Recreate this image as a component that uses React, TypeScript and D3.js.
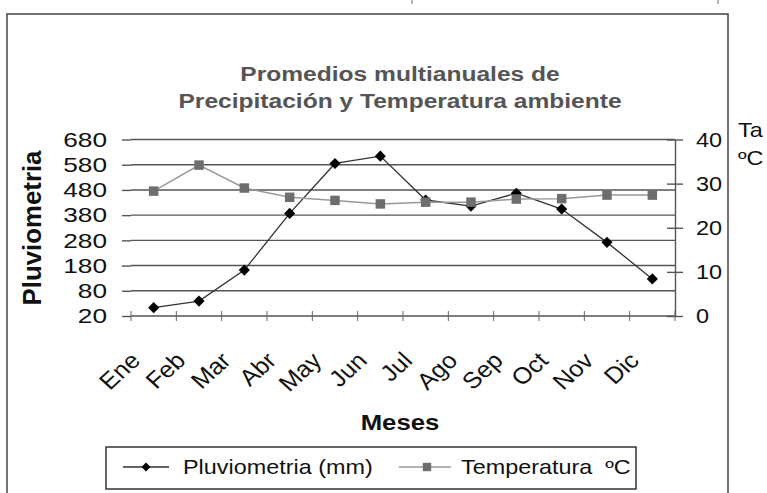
import React, { useEffect, useRef } from 'react';
import * as d3 from 'd3';

const months = ['Ene', 'Feb', 'Mar', 'Abr', 'May', 'Jun', 'Jul', 'Ago', 'Sep', 'Oct', 'Nov', 'Dic'];
const pluviometria = [13, 39, 162, 387, 585, 614, 440, 416, 467, 404, 272, 127];
const temperatura = [28.3, 34.2, 29.0, 26.9, 26.2, 25.4, 25.8, 25.8, 26.5, 26.6, 27.4, 27.4];
const leftTicks = [-20, 80, 180, 280, 380, 480, 580, 680];
const leftTickLabels = ['20', '80', '180', '280', '380', '480', '580', '680'];
const rightTicks = [0, 10, 20, 30, 40];
const titleLines = ['Promedios multianuales de', 'Precipitación y Temperatura ambiente'];

const W = 767;
const H = 493;
const SX = 1.17; // the source picture is stretched sideways a bit
const FONT = "'Liberation Sans', Arial, sans-serif";

const App = () => {
  const ref = useRef<SVGSVGElement>(null);

  useEffect(() => {
    const svg = d3.select(ref.current);
    svg.selectAll('*').remove();

    const left = 131, right = 675, top = 139.5, bottom = 316;

    const x = d3.scaleBand().domain(months).range([left, right]);
    const cx = (m: string) => (x(m) as number) + x.bandwidth() / 2;
    const yL = d3.scaleLinear().domain([-20, 680]).range([bottom, top]);
    const yR = d3.scaleLinear().domain([0, 40]).range([bottom, top]);

    svg.append('rect').attr('width', W).attr('height', H).attr('fill', '#fff');

    // outer frame (bottom runs off the picture)
    svg.append('path')
      .attr('d', 'M7,520V14H728V520')
      .attr('fill', 'none')
      .attr('stroke', '#444')
      .attr('stroke-width', 1.5);
    // little scraps at the very top
    svg.append('line').attr('x1', 412).attr('x2', 412).attr('y1', 0).attr('y2', 4).attr('stroke', '#666');
    svg.append('line').attr('x1', 718).attr('x2', 718).attr('y1', 0).attr('y2', 4).attr('stroke', '#666');

    // title
    svg.append('g').selectAll('text').data(titleLines).join('text')
      .attr('transform', (d, i) => `translate(400,${81 + i * 27}) scale(${SX},1)`)
      .attr('text-anchor', 'middle')
      .attr('font-family', FONT)
      .attr('font-weight', 'bold')
      .attr('font-size', 21)
      .attr('fill', '#555')
      .text(d => d);

    // gridlines
    svg.append('g').selectAll('line').data(leftTicks.slice(1)).join('line')
      .attr('x1', left).attr('x2', right)
      .attr('y1', d => yL(d)).attr('y2', d => yL(d))
      .attr('stroke', '#555')
      .attr('stroke-width', 1.4);

    // left axis
    const sxL = 1.25;
    const gL = svg.append('g')
      .attr('transform', `translate(${left},0)`)
      .call(d3.axisLeft(yL).tickValues(leftTicks).tickFormat((d, i) => leftTickLabels[i]).tickSize(9));
    gL.select('.domain').remove();
    gL.selectAll('.tick line').attr('stroke', '#555').attr('stroke-width', 1.4);
    gL.selectAll('.tick text')
      .attr('x', -24 / sxL)
      .attr('transform', `scale(${sxL},1)`)
      .attr('font-size', 21)
      .attr('font-family', FONT)
      .attr('fill', '#111');

    // right axis
    const sxR = 1.12;
    const gR = svg.append('g')
      .attr('transform', `translate(${right},0)`)
      .call(d3.axisRight(yR).tickValues(rightTicks).tickSize(8).tickSizeOuter(0));
    gR.select('.domain').attr('stroke', '#555').attr('stroke-width', 1.4);
    gR.selectAll('.tick line').attr('x1', -8).attr('stroke', '#555').attr('stroke-width', 1.4);
    gR.selectAll('.tick text')
      .attr('x', 21 / sxR)
      .attr('transform', `scale(${sxR},1)`)
      .attr('font-size', 21)
      .attr('font-family', FONT)
      .attr('fill', '#111');

    // bottom axis
    svg.append('line')
      .attr('x1', left).attr('x2', right).attr('y1', bottom).attr('y2', bottom)
      .attr('stroke', '#555').attr('stroke-width', 1.4);
    svg.append('g').selectAll('line').data(d3.range(months.length + 1)).join('line')
      .attr('x1', k => left + k * x.step()).attr('x2', k => left + k * x.step())
      .attr('y1', bottom - 5).attr('y2', bottom + 5)
      .attr('stroke', '#666');

    // month labels
    svg.append('g').selectAll('text').data(months).join('text')
      .attr('transform', d => `translate(${cx(d) - 12},362) scale(1.1,1) rotate(-45)`)
      .attr('text-anchor', 'end')
      .attr('font-family', FONT)
      .attr('font-size', 23)
      .attr('fill', '#111')
      .text(d => d);

    // axis titles
    svg.append('text')
      .attr('transform', 'translate(41,228) rotate(-90)')
      .attr('text-anchor', 'middle')
      .attr('font-family', FONT)
      .attr('font-weight', 'bold')
      .attr('font-size', 25)
      .attr('textLength', 155)
      .attr('lengthAdjust', 'spacingAndGlyphs')
      .attr('fill', '#111')
      .text('Pluviometria');

    svg.append('text')
      .attr('transform', `translate(400,430) scale(${SX},1)`)
      .attr('text-anchor', 'middle')
      .attr('font-family', FONT)
      .attr('font-weight', 'bold')
      .attr('font-size', 22)
      .attr('fill', '#111')
      .text('Meses');

    svg.append('g').selectAll('text').data(['Ta', 'ºC']).join('text')
      .attr('transform', (d, i) => `translate(738,${137 + i * 28}) scale(${SX},1)`)
      .attr('font-family', FONT)
      .attr('font-size', 20)
      .attr('fill', '#111')
      .text(d => d);

    // pluviometria series
    const lineL = d3.line<number>().x((d, i) => cx(months[i])).y(d => yL(d));
    svg.append('path')
      .attr('d', lineL(pluviometria))
      .attr('fill', 'none')
      .attr('stroke', '#333')
      .attr('stroke-width', 1.3);
    const diamond = d3.symbol(d3.symbolSquare, 62);
    svg.append('g').selectAll('path').data(pluviometria).join('path')
      .attr('transform', (d, i) => `translate(${cx(months[i])},${yL(d)}) rotate(45)`)
      .attr('d', diamond())
      .attr('fill', '#000');

    // temperatura series
    const lineR = d3.line<number>().x((d, i) => cx(months[i])).y(d => yR(d));
    svg.append('path')
      .attr('d', lineR(temperatura))
      .attr('fill', 'none')
      .attr('stroke', '#999')
      .attr('stroke-width', 1.5);
    const square = d3.symbol(d3.symbolSquare, 90);
    svg.append('g').selectAll('path').data(temperatura).join('path')
      .attr('transform', (d, i) => `translate(${cx(months[i])},${yR(d)})`)
      .attr('d', square())
      .attr('fill', '#6e6e6e');

    // legend
    const lg = svg.append('g');
    lg.append('rect')
      .attr('x', 106).attr('y', 447).attr('width', 530).attr('height', 42)
      .attr('fill', '#fff').attr('stroke', '#333').attr('stroke-width', 1.5);
    lg.append('line').attr('x1', 123).attr('x2', 169).attr('y1', 467).attr('y2', 467)
      .attr('stroke', '#333').attr('stroke-width', 1.3);
    lg.append('path').attr('transform', 'translate(146,467) rotate(45)').attr('d', d3.symbol(d3.symbolSquare, 40)()).attr('fill', '#000');
    lg.append('line').attr('x1', 399).attr('x2', 451).attr('y1', 467).attr('y2', 467)
      .attr('stroke', '#999').attr('stroke-width', 1.5);
    lg.append('path').attr('transform', 'translate(427,467)').attr('d', d3.symbol(d3.symbolSquare, 70)()).attr('fill', '#6e6e6e');
    lg.selectAll('text.lbl').data([
      { t: 'Pluviometria (mm)', x: 183 },
      { t: 'Temperatura  ºC', x: 461 },
    ]).join('text')
      .attr('class', 'lbl')
      .attr('transform', d => `translate(${d.x},474) scale(${SX},1)`)
      .attr('font-family', FONT)
      .attr('font-size', 20)
      .attr('fill', '#111')
      .style('white-space', 'pre')
      .text(d => d.t);
  }, []);

  return (
    <svg ref={ref} width={W} height={H} style={{ position: 'absolute', left: 0, top: 0 }} />
  );
};

export default App;
